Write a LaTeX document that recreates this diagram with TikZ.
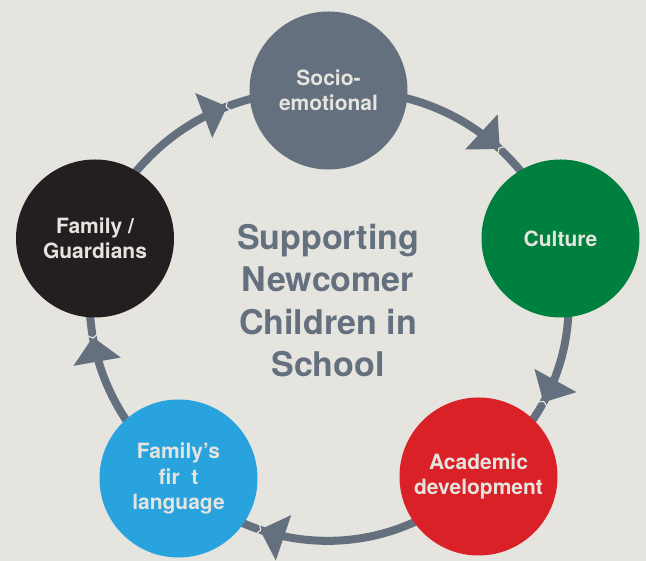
\documentclass[tikz,border=0pt]{standalone}
\usepackage{fontspec}
\setmainfont{TeX Gyre Heros}
\usetikzlibrary{decorations.markings, backgrounds}

\definecolor{paper}{HTML}{E5E4DF}
\definecolor{slate}{HTML}{65707F}
\definecolor{leafgreen}{HTML}{00803E}
\definecolor{alarmred}{HTML}{DA2128}
\definecolor{skyblue}{HTML}{29A3DD}
\definecolor{inkblack}{HTML}{231F20}

\tikzset{
  topic/.style={circle, minimum size=158pt, inner sep=0pt, text=paper, align=center,
    font=\fontsize{21}{25.5}\selectfont\bfseries},
  cycle arrow/.style={draw=slate, line width=8pt,
    postaction={decorate, decoration={markings,
      mark=at position #1 with {
        \fill[slate] (0pt,0pt) -- (-25pt,24pt) -- (-25pt,-24pt) -- cycle;
        \draw[paper, line width=1.2pt] (-1pt,0pt) -- (2pt,-5pt) (-1pt,0pt) -- (2pt,5pt);}}}}
}

\begin{document}
\begin{tikzpicture}[x=1pt, y=1pt]
  \useasboundingbox (0,0) rectangle (646,561);

  % five circles round the ring
  \node[topic, fill=slate] (soc) at (328.5,470.5) {Socio-\\emotional};
  \node[topic, fill=leafgreen] (cul) at (560.5,322.5) {Culture};
  \node[topic, fill=alarmred] (aca) at (478.5,84.5) {Academic\\development};
  \node[topic, fill=skyblue] (lan) at (178.5,82.5) {Family's\\fir\hspace{0.55em}t\\language};
  \node[topic, fill=inkblack] (fam) at (95,322.5) {Family /\\Guardians};

  % title in the middle
  \node[text=slate, align=center, font=\fontsize{34}{42.5}\selectfont\bfseries]
    (title) at (328,260.5) {Supporting\\Newcomer\\Children in\\School};

  % ring of arrows behind the circles
  \begin{scope}[on background layer]
    \fill[paper] (0,0) rectangle (646,561);
    \draw[cycle arrow=0.63] (soc.center) to[bend left=35] (cul.center);
    \draw[cycle arrow=0.63] (cul.center) to[bend left=33] (aca.center);
    \draw[cycle arrow=0.71] (aca.center) to[bend left=46] (lan.center);
    \draw[cycle arrow=0.63] (lan.center) to[bend left=30] (fam.center);
    \draw[cycle arrow=0.65] (fam.center) to[bend left=34] (soc.center);
  \end{scope}
\end{tikzpicture}
\end{document}
